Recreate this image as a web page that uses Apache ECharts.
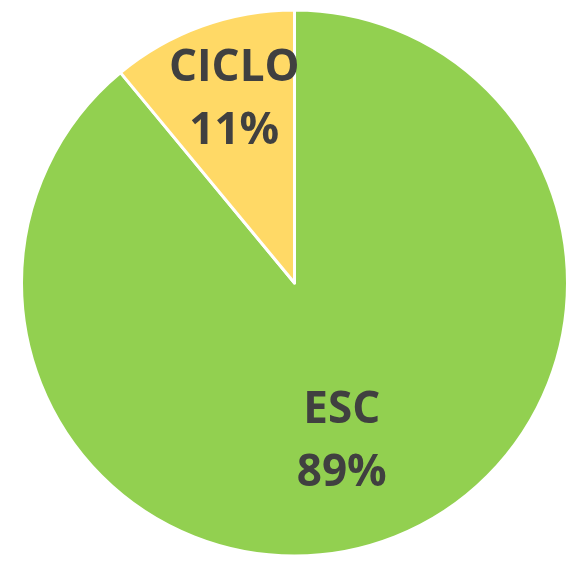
<!DOCTYPE html>
<html>
<head>
<meta charset="utf-8">
<script src="https://cdn.jsdelivr.net/npm/echarts@6/dist/echarts.min.js"></script>
<style>
  html, body { margin: 0; padding: 0; background: #fff; }
  #chart { width: 577px; height: 563px; }
</style>
</head>
<body>
<div id="chart"></div>
<script>
  const categories = ['ESC', 'CICLO'];
  const shares = [89, 11];
  const colors = ['#92D050', '#FFD966'];
  // nudge labels to where the reference puts them
  const labelOffsets = [[0, 28], [-13, -52]];

  const chart = echarts.init(document.getElementById('chart'));
  chart.setOption({
    animation: false,
    series: [{
      type: 'pie',
      center: [294.5, 283],
      radius: [0, 273],
      startAngle: 90,
      clockwise: true,
      itemStyle: {
        borderColor: '#fff',
        borderWidth: 3
      },
      label: {
        show: true,
        position: 'inside',
        formatter: '{b}\n{c}%',
        color: '#404040',
        fontFamily: 'Open Sans',
        fontWeight: 'bold',
        fontSize: 44,
        lineHeight: 63
      },
      labelLine: { show: false },
      emphasis: { disabled: true },
      data: categories.map((name, i) => ({
        name: name,
        value: shares[i],
        itemStyle: { color: colors[i] },
        label: { offset: labelOffsets[i] }
      }))
    }]
  });
</script>
</body>
</html>
